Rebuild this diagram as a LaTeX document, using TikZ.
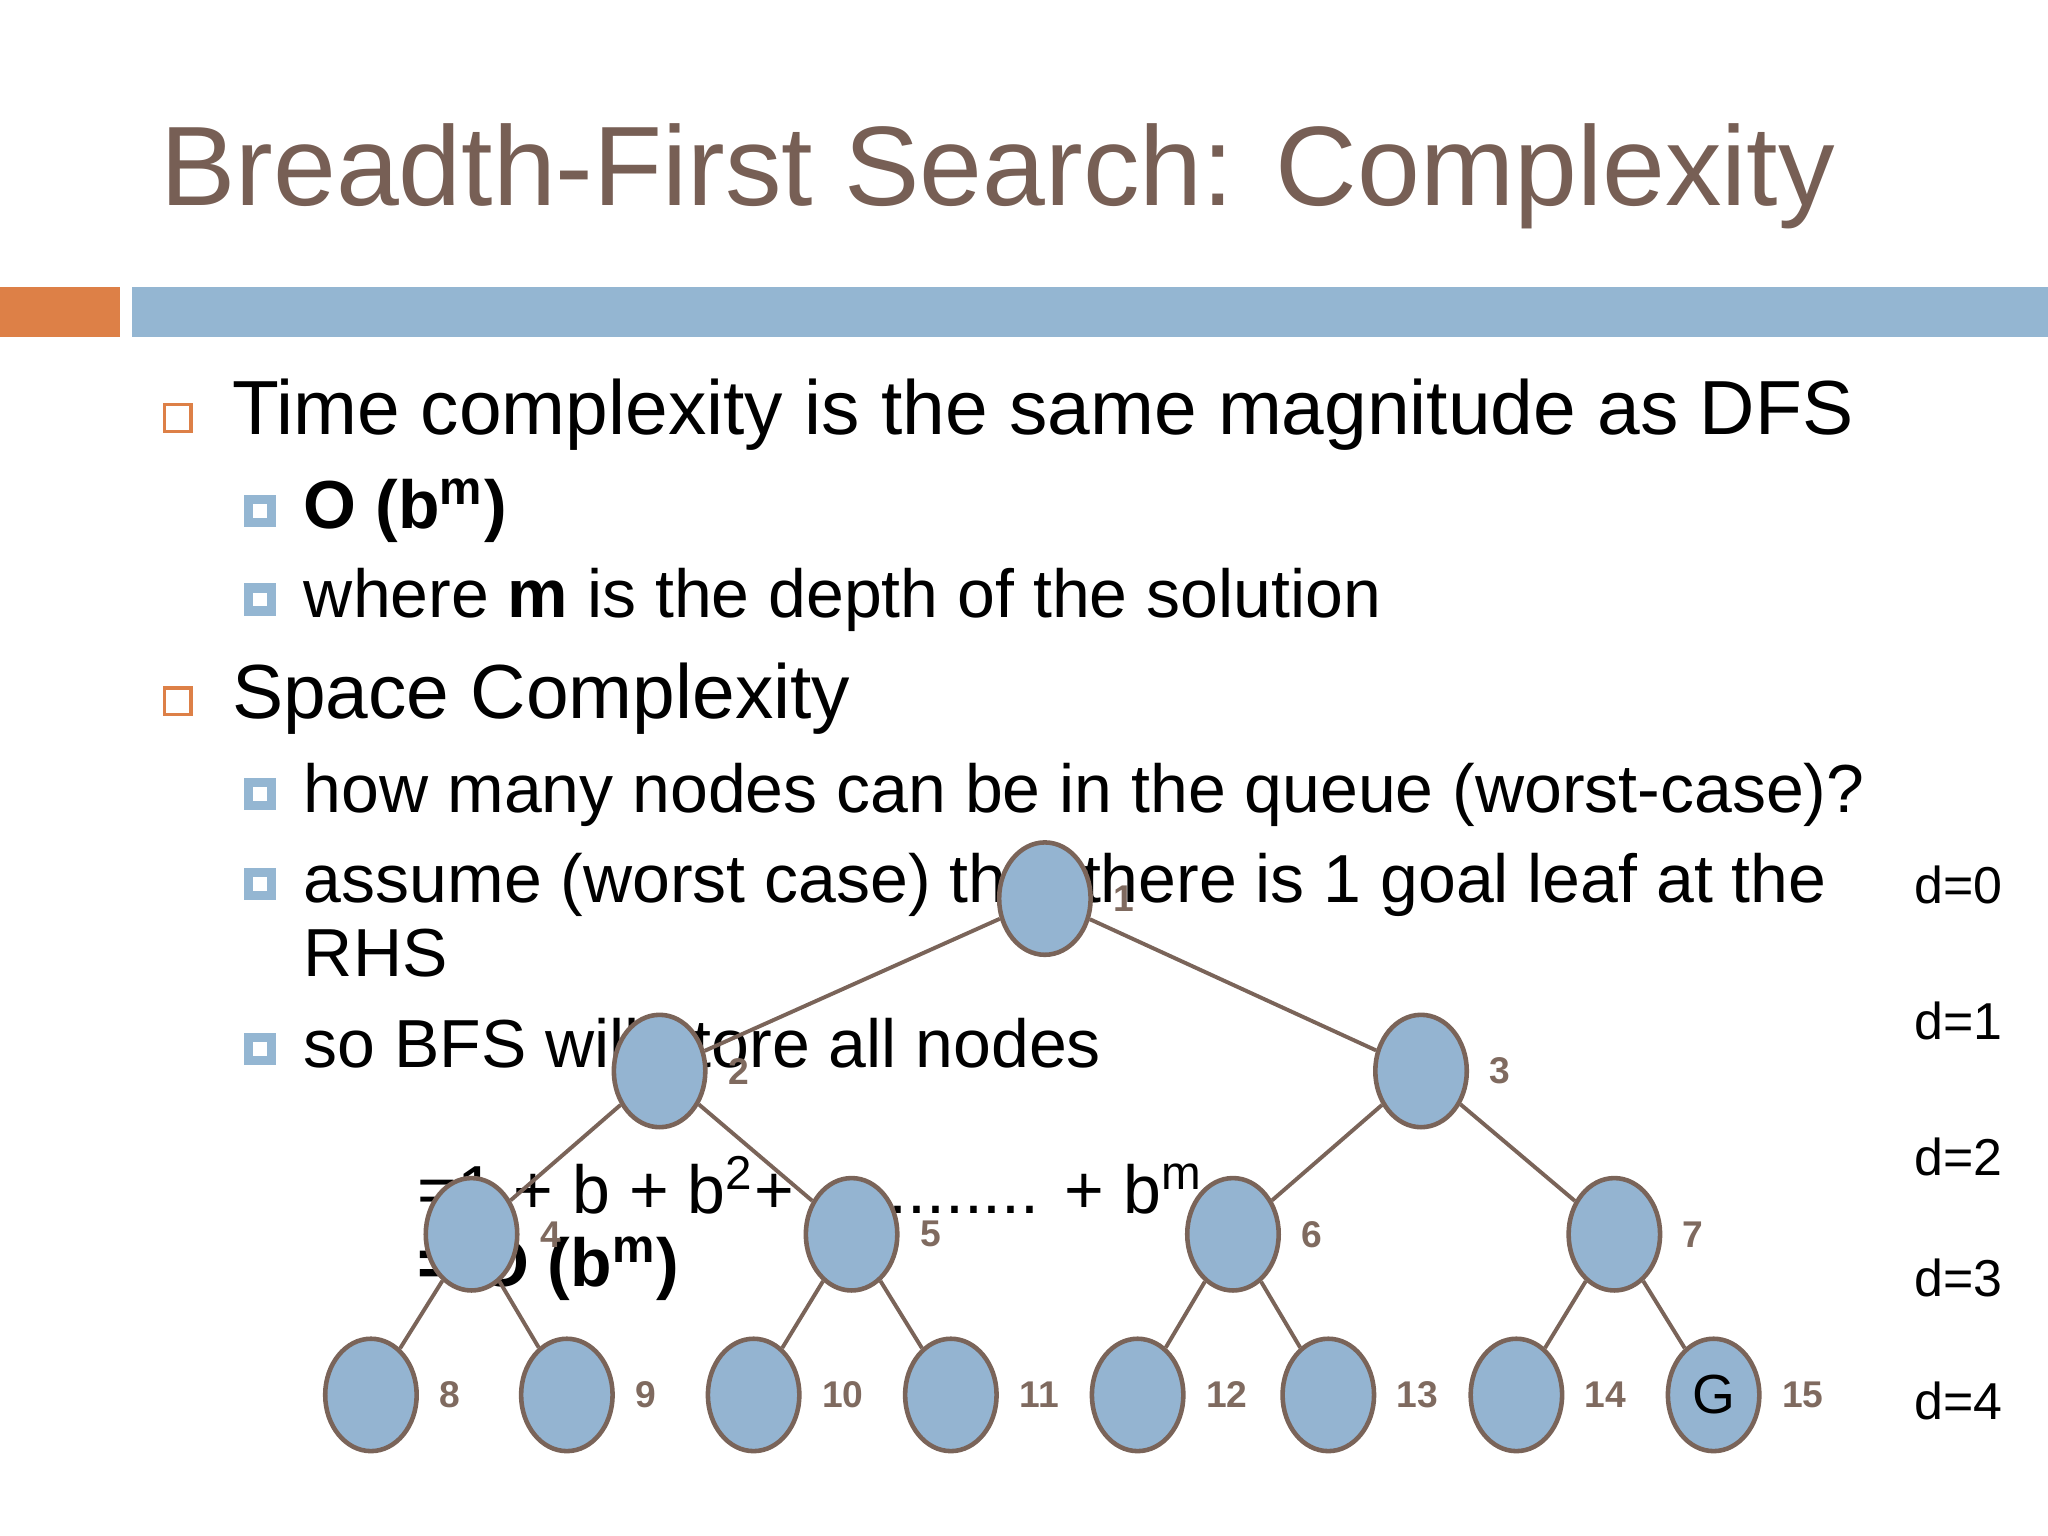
\documentclass[tikz,border=0pt]{standalone}
\usepackage{fontspec}
\setmainfont{Liberation Sans}
\usepackage{tikz}
\usetikzlibrary{shapes.geometric}
\definecolor{titlebrown}{HTML}{775F55}
\definecolor{barorange}{HTML}{DD8047}
\definecolor{barblue}{HTML}{94B6D2}
\definecolor{nodeblue}{HTML}{94B4D1}
\definecolor{nodeline}{HTML}{7A6459}
\definecolor{lblbrown}{HTML}{7F6A5F}
\tikzstyle{tnode}=[ellipse, draw=nodeline, line width=0.035cm, fill=nodeblue, minimum width=0.7cm, minimum height=0.86cm, inner sep=0pt, font=\fontsize{12}{14}\selectfont]
\tikzstyle{numlbl}=[font=\fontsize{8.1}{9}\selectfont\bfseries, text=lblbrown, inner sep=0pt, label distance=0.15cm]
\tikzstyle{edge}=[draw=nodeline, line width=0.03cm]
\tikzstyle{boxa}=[rectangle, draw=barorange, line width=0.025cm, minimum size=0.205cm, inner sep=0pt]
\tikzstyle{boxb}=[rectangle, draw=barblue, fill=white, line width=0.07cm, minimum size=0.175cm, inner sep=0pt]
\tikzstyle{lvla}=[anchor=base west, inner sep=0pt, font=\fontsize{16.7}{20}\selectfont]
\tikzstyle{lvlb}=[anchor=base west, inner sep=0pt, font=\fontsize{14.8}{18}\selectfont]
\tikzstyle{depth}=[anchor=base west, inner sep=0pt, font=\fontsize{11.3}{14}\selectfont]

\begin{document}
\begin{tikzpicture}[x=0.01cm, y=-0.01cm]
\useasboundingbox (0,0) rectangle (1568,1176);
% title and bars
\fill[barorange] (0,220) rectangle (92,258);
\fill[barblue] (101,220) rectangle (1568,258);
\node[anchor=base west, inner sep=0pt, text=titlebrown, font=\fontsize{24.6}{30}\selectfont] (title) at (122,157) {Breadth-First Search: Complexity};

% bullets
\node[boxa] (ba1) at (136,320) {};
\node[lvla] (ta1) at (177,333) {Time complexity is the same magnitude as DFS};
\node[boxb] (bb1) at (199,391) {};
\node[lvlb] (tb1) at (232,405) {\bfseries O (b\textsuperscript{m})};
\node[boxb] (bb2) at (199,459) {};
\node[lvlb] (tb2) at (232,473) {where \textbf{m} is the depth of the solution};
\node[boxa] (ba2) at (136,537) {};
\node[lvla] (ta2) at (177,550) {Space Complexity};
\node[boxb] (bb3) at (199,608) {};
\node[lvlb] (tb3) at (232,622) {how many nodes can be in the queue (worst-case)?};
\node[boxb] (bb4) at (199,677) {};
\node[lvlb] (tb4) at (232,691) {assume (worst case) that there is 1 goal leaf at the};
\node[lvlb] (tb5) at (232,748) {RHS};
\node[boxb] (bb5) at (199,803) {};
\node[lvlb] (tb6) at (232,817) {so BFS will store all nodes};
\node[lvlb] (sum) at (319,929) {=1 + b + b\textsuperscript{2}+ ............ + b\textsuperscript{m}};
\node[lvlb] (big) at (319,985) {\bfseries = O (b\textsuperscript{m})};

% depth labels
\foreach \d/\y in {0/692, 1/796, 2/900, 3/993, 4/1087} {
	\node[depth] (d\d) at (1465,\y) {d=\d};
}

% tree
\foreach \n/\x/\y in {1/800/688, 2/505/820, 3/1088/820, 4/361/945, 5/652/945, 6/944/945, 7/1236/945, 8/284/1068, 9/434/1068, 10/577/1068, 11/728/1068, 12/871/1068, 13/1017/1068, 14/1161/1068} {
	\node[tnode, label={[numlbl]right:\n}] (n\n) at (\x,\y) {};
}
\node[tnode, label={[numlbl]right:15}] (n15) at (1312,1068) {G};
\foreach \a/\b in {1/2, 1/3, 2/4, 2/5, 3/6, 3/7, 4/8, 4/9, 5/10, 5/11, 6/12, 6/13, 7/14, 7/15} {
	\draw[edge] (n\a) -- (n\b);
}
\end{tikzpicture}
\end{document}
